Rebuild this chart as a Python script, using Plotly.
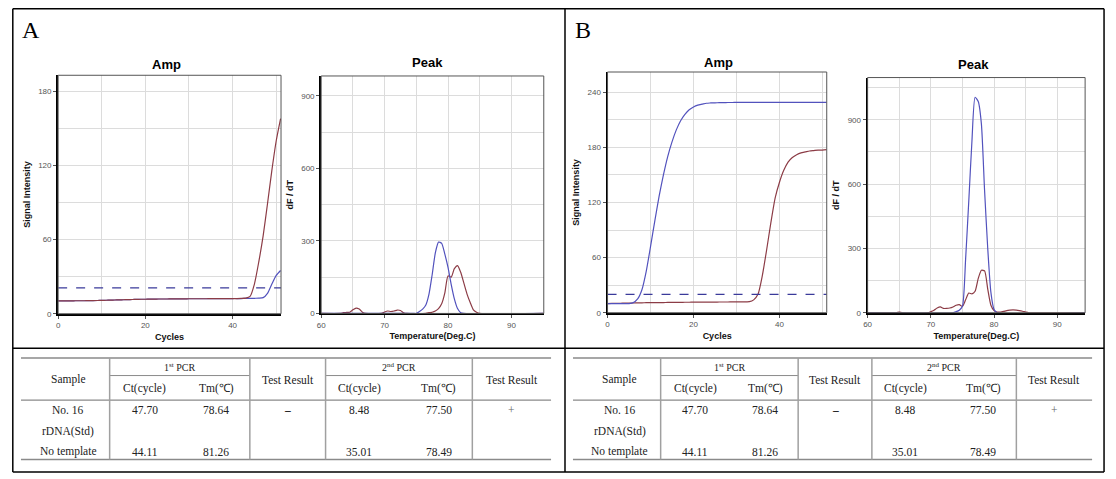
import plotly.graph_objects as go

# The page body adds an 8px margin; the figure is sized to fill the rest.
PAGE_W, PAGE_H = 1116, 479
OFF = 8
W, H = PAGE_W - OFF, PAGE_H - OFF

# ---------------- data ----------------
# Panel A – amplification (cycles 0..51)
ampA_cycles = list(range(0, 52))
ampA_blue = [10.4, 10.4, 10.4, 10.4, 10.5, 10.5, 10.5, 10.6, 10.6, 10.7,
             10.8, 10.9, 11.0, 11.1, 11.2, 11.3, 11.4, 11.5, 11.6, 11.7,
             11.7, 11.8, 11.8, 11.9, 11.9, 11.9, 12.0, 12.0, 12.0, 12.0,
             12.1, 12.1, 12.1, 12.1, 12.1, 12.2, 12.2, 12.2, 12.2, 12.2,
             12.3, 12.3, 12.3, 12.4, 12.4, 12.5, 12.6, 13.0, 16.5, 24.0,
             31.0, 35.0]
ampA_brown = [10.4, 10.4, 10.4, 10.4, 10.5, 10.5, 10.5, 10.6, 10.6, 10.7,
              10.8, 10.9, 11.0, 11.1, 11.2, 11.3, 11.4, 11.5, 11.6, 11.7,
              11.7, 11.8, 11.8, 11.9, 11.9, 11.9, 12.0, 12.0, 12.0, 12.0,
              12.1, 12.1, 12.1, 12.1, 12.1, 12.2, 12.2, 12.2, 12.2, 12.2,
              12.3, 12.3, 12.4, 12.6, 14.0, 24.0, 42.0, 63.0, 89.0, 116.0,
              140.0, 158.0]
ampA_threshold = 21.0

# Panel A – melt peak
peakA_temp_blue = [60, 74.5, 75, 75.5, 76, 76.5, 77, 77.5, 78, 78.5, 79, 79.5,
                   80, 80.5, 81, 81.5, 82, 82.5, 95]
peakA_blue = [0, 0, 0, 8, 18, 35, 80, 160, 250, 295, 290, 245,
              190, 120, 60, 20, 3, 0, 0]
peakA_temp_brown = [60, 63, 63.5, 64, 64.5, 65, 65.5, 66, 66.5, 67, 69.5, 70,
                    70.5, 71, 71.5, 72, 72.5, 73, 73.5, 76.5, 77, 77.5, 78,
                    78.5, 79, 79.5, 80, 80.5, 81, 81.5, 82, 82.5, 83, 83.5,
                    84, 84.5, 85, 95]
peakA_brown = [0, 0, 3, 4, 5, 15, 22, 18, 5, 0, 0, 6,
               10, 8, 10, 14, 12, 3, 0, 0, 3, 5, 10,
               20, 40, 85, 155, 150, 185, 198, 170, 125, 80, 45,
               15, 5, 0, 0]

# Panel B – amplification
ampB_cycles = list(range(0, 52))
ampB_blue = [10, 10, 10, 10, 10, 10, 11, 15, 25, 45,
             72, 100, 127, 150, 170, 186, 199, 209, 216, 221,
             224, 226, 227, 228, 228.3, 228.5, 228.6, 228.7, 228.8, 228.8,
             228.9, 228.9, 229, 229, 229, 229, 229, 229, 229, 229,
             229, 229, 229, 229, 229, 229, 229, 229, 229, 229,
             229, 229]
ampB_brown = [10.0, 10.1, 10.2, 10.3, 10.4, 10.5, 10.6, 10.7, 10.8, 10.9,
              11.0, 11.0, 11.1, 11.1, 11.2, 11.2, 11.3, 11.3, 11.4, 11.4,
              11.5, 11.5, 11.5, 11.6, 11.6, 11.6, 11.7, 11.7, 11.7, 11.8,
              11.8, 11.8, 11.9, 12.0, 14.0, 20.0, 40.0, 68.0, 98.0, 125.0,
              142.0, 155.0, 164.0, 169.0, 172.0, 174.0, 175.0, 176.0, 176.5, 177.0,
              177.0, 177.5]
ampB_threshold = 20.0

# Panel B – melt peak
peakB_temp_blue = [60, 73.5, 74, 74.5, 75, 75.5, 76, 76.5, 77, 77.5, 78, 78.5,
                   79, 79.5, 80, 80.5, 95]
peakB_blue = [0, 0, 5, 12, 30, 250, 520, 800, 1005, 985, 880, 570,
              300, 95, 15, 0, 0]
peakB_temp_brown = [60, 64.5, 65, 65.5, 69.5, 70, 70.5, 71, 71.5, 72, 72.5, 73,
                    73.5, 74, 74.5, 75, 75.5, 76, 76.5, 77, 77.5, 78, 78.5,
                    79, 79.5, 80, 80.5, 81, 81.5, 82, 82.5, 83, 83.5, 84,
                    84.5, 85, 85.5, 95]
peakB_brown = [0, 0, 3, 0, 0, 5, 12, 22, 27, 20, 20, 22,
               27, 35, 38, 30, 60, 92, 88, 100, 160, 198, 195,
               110, 35, 10, 3, 3, 6, 10, 12, 13, 12, 10,
               7, 3, 0, 0]

# Table contents
hdr_groups = ["1<sup>st</sup> PCR", "2<sup>nd</sup> PCR"]
hdr_sub = ["Ct(cycle)", "Tm(℃)"]
hdr_single = ["Sample", "Test Result"]
sample_names = ["No. 16", "rDNA(Std)", "No template"]
ct_1st = ["47.70", "", "44.11"]
tm_1st = ["78.64", "", "81.26"]
result_1st = ["<b>–</b>", "", ""]
ct_2nd = ["8.48", "", "35.01"]
tm_2nd = ["77.50", "", "78.49"]
result_2nd = ["+", "", ""]
panel_letters = ["A", "B"]

BLUE = "#5252bd"
BROWN = "#8c3c46"
THR = "#3a3a9a"

# page-pixel -> paper coordinates
def fx(p):
    return (p - OFF) / W

def fy(p):
    return 1 - (p - OFF) / H

fig = go.Figure()

# (name, x px domain, y px domain, xrange, yrange, xdtick, xminor, ydtick, yminor, xtitle, ytitle)
axes = [
    ("", (54.3, 278.0), (76.0, 317.0), [0, 51.1], [0, 193], 20, 10, 60, 30,
     "Cycles", "Signal Intensity"),
    ("2", (318.3, 541.7), (76.7, 316.7), [60, 95.1], [0, 982], 10, 5, 300, 150,
     "Temperature(Deg.C)", "dF / dT"),
    ("3", (605.7, 825.7), (72.7, 316.0), [0, 51], [0, 262], 20, 10, 60, 30,
     "Cycles", "Signal Intensity"),
    ("4", (866.7, 1085.0), (78.3, 316.0), [60, 94.4], [0, 1097], 10, 5, 300, 150,
     "Temperature(Deg.C)", "dF / dT"),
]

tickfont = dict(family="Liberation Sans", size=8, color="#555555")
titlefont = dict(family="Liberation Sans", size=9, color="#111111")

for name, (x0, x1), (y0, y1), xr, yr, xd, xm, yd, ym, xt, yt in axes:
    xa = dict(domain=[fx(x0), fx(x1)], range=xr, dtick=xd, tick0=xr[0],
              showgrid=True, gridcolor="#dcdcdc", gridwidth=1,
              minor=dict(dtick=xm, showgrid=True, gridcolor="#dcdcdc", ticks=""),
              showline=True, linecolor="#000000", linewidth=2,
              ticks="outside", ticklen=3, tickcolor="#555555",
              tickfont=tickfont, zeroline=False,
              title=dict(text="<b>" + xt + "</b>", font=titlefont, standoff=4),
              anchor="y" + name, fixedrange=True)
    ya = dict(domain=[fy(y1), fy(y0)], range=yr, dtick=yd, tick0=0,
              showgrid=True, gridcolor="#dcdcdc", gridwidth=1,
              minor=dict(dtick=ym, showgrid=True, gridcolor="#dcdcdc", ticks=""),
              showline=True, linecolor="#000000", linewidth=2,
              ticks="outside", ticklen=3, tickcolor="#555555",
              tickfont=tickfont, zeroline=False,
              title=dict(text="<b>" + yt + "</b>", font=titlefont, standoff=6),
              anchor="x" + name, fixedrange=True)
    fig.layout["xaxis" + name] = xa
    fig.layout["yaxis" + name] = ya
    fig.add_shape(type="rect", xref="x" + name + " domain", yref="y" + name + " domain",
                  x0=0, x1=1, y0=0, y1=1, line=dict(color="#555555", width=1),
                  layer="above")

def line_trace(x, y, color, ax, dash=None, shape="spline"):
    return go.Scatter(x=x, y=y, mode="lines",
                      line=dict(color=color, width=1.2, dash=dash, shape=shape,
                                smoothing=0.6),
                      xaxis="x" + ax, yaxis="y" + ax, showlegend=False,
                      hoverinfo="skip")

fig.add_trace(line_trace(ampA_cycles, ampA_blue, BLUE, ""))
fig.add_trace(line_trace(ampA_cycles, ampA_brown, BROWN, ""))
fig.add_trace(line_trace([0, 51.1], [ampA_threshold, ampA_threshold], THR, "",
                         dash="dash", shape="linear"))
fig.add_trace(line_trace(peakA_temp_brown, peakA_brown, BROWN, "2"))
fig.add_trace(line_trace(peakA_temp_blue, peakA_blue, BLUE, "2"))
fig.add_trace(line_trace(ampB_cycles, ampB_brown, BROWN, "3"))
fig.add_trace(line_trace(ampB_cycles, ampB_blue, BLUE, "3"))
fig.add_trace(line_trace([0, 51], [ampB_threshold, ampB_threshold], THR, "3",
                         dash="dash", shape="linear"))
fig.add_trace(line_trace(peakB_temp_brown, peakB_brown, BROWN, "4"))
fig.add_trace(line_trace(peakB_temp_blue, peakB_blue, BLUE, "4"))

annotations = []

def ann(x, y, text, size=11.5, family="Liberation Serif", color="#222222"):
    if not text:
        return
    annotations.append(dict(x=fx(x), y=fy(y), xref="paper", yref="paper",
                            text=text, showarrow=False, xanchor="center",
                            yanchor="middle",
                            font=dict(family=family, size=size, color=color)))

title_font = "Liberation Sans"
ann(163, 65, "<b>Amp</b>", size=13, family=title_font, color="#000000")
ann(425, 63, "<b>Peak</b>", size=13, family=title_font, color="#000000")
ann(717, 63, "<b>Amp</b>", size=13, family=title_font, color="#000000")
ann(973, 65, "<b>Peak</b>", size=13, family=title_font, color="#000000")

ann(27, 30, panel_letters[0], size=24, family="Liberation Serif", color="#000000")
ann(581, 30, panel_letters[1], size=24, family="Liberation Serif", color="#000000")

shapes = []

def pline(x0, y0, x1, y1, color="#000000", width=1.5):
    shapes.append(dict(type="line", xref="paper", yref="paper",
                       x0=fx(x0), y0=fy(y0), x1=fx(x1), y1=fy(y1),
                       line=dict(color=color, width=width)))

# outer frame and dividers (left/top edges sit at the figure's edge)
EDGE = OFF + 0.8
pline(EDGE, EDGE, 1104, EDGE)
pline(EDGE, 477, 1104, 477)
pline(EDGE, EDGE, EDGE, 477)
pline(1104, EDGE, 1104, 477)
pline(563, EDGE, 563, 477)
pline(EDGE, 352, 1104, 352)

tables = [
    [17, 106, 246.7, 322.7, 470, 549],
    [571, 659, 797, 871, 1016, 1092],
]
y_top, y_mid, y_hdr, y_bot = 361.7, 379.5, 404.3, 464.3
row_y = [414, 436.5, 456.5]
GRAY = "#8a8a8a"
for cols in tables:
    L, c1, c2, c3, c4, R = cols
    pline(L, y_top, R, y_top, GRAY, 1.5)
    pline(L, y_hdr, R, y_hdr, GRAY, 1.2)
    pline(L, y_bot, R, y_bot, GRAY, 1.5)
    pline(c1, y_mid, c2, y_mid, GRAY, 1)
    pline(c3, y_mid, c4, y_mid, GRAY, 1)
    for c in (c1, c2, c3, c4):
        pline(c, y_top, c, y_bot, "#a0a0a0", 1.5)
    ann((L + c1) / 2 + 3, 383.5, hdr_single[0])
    ann((c2 + c3) / 2, 383.5, hdr_single[1])
    ann((c4 + R) / 2, 383.5, hdr_single[1])
    ann((c1 + c2) / 2, 370.5, hdr_groups[0], size=10)
    ann((c3 + c4) / 2, 370.5, hdr_groups[1], size=10)
    ct1x = c1 + 0.25 * (c2 - c1)
    tm1x = c1 + 0.76 * (c2 - c1)
    ct2x = c3 + 0.23 * (c4 - c3)
    tm2x = c3 + 0.77 * (c4 - c3)
    ann(ct1x, 393, hdr_sub[0])
    ann(tm1x, 393, hdr_sub[1])
    ann(ct2x, 393, hdr_sub[0])
    ann(tm2x, 393, hdr_sub[1])
    for i, yy in enumerate(row_y):
        ann((L + c1) / 2 + 3, yy, sample_names[i])
        ann(ct1x, yy, ct_1st[i])
        ann(tm1x, yy, tm_1st[i])
        ann((c2 + c3) / 2, yy, result_1st[i])
        ann(ct2x, yy, ct_2nd[i])
        ann(tm2x, yy, tm_2nd[i])
        ann((c4 + R) / 2, yy, result_2nd[i], color="#666666")

fig.update_layout(width=W, height=H, margin=dict(l=0, r=0, t=0, b=0),
                  paper_bgcolor="#ffffff", plot_bgcolor="#ffffff",
                  annotations=annotations, showlegend=False)
for s in shapes:
    fig.add_shape(**s)

fig.write_html("out.html")
